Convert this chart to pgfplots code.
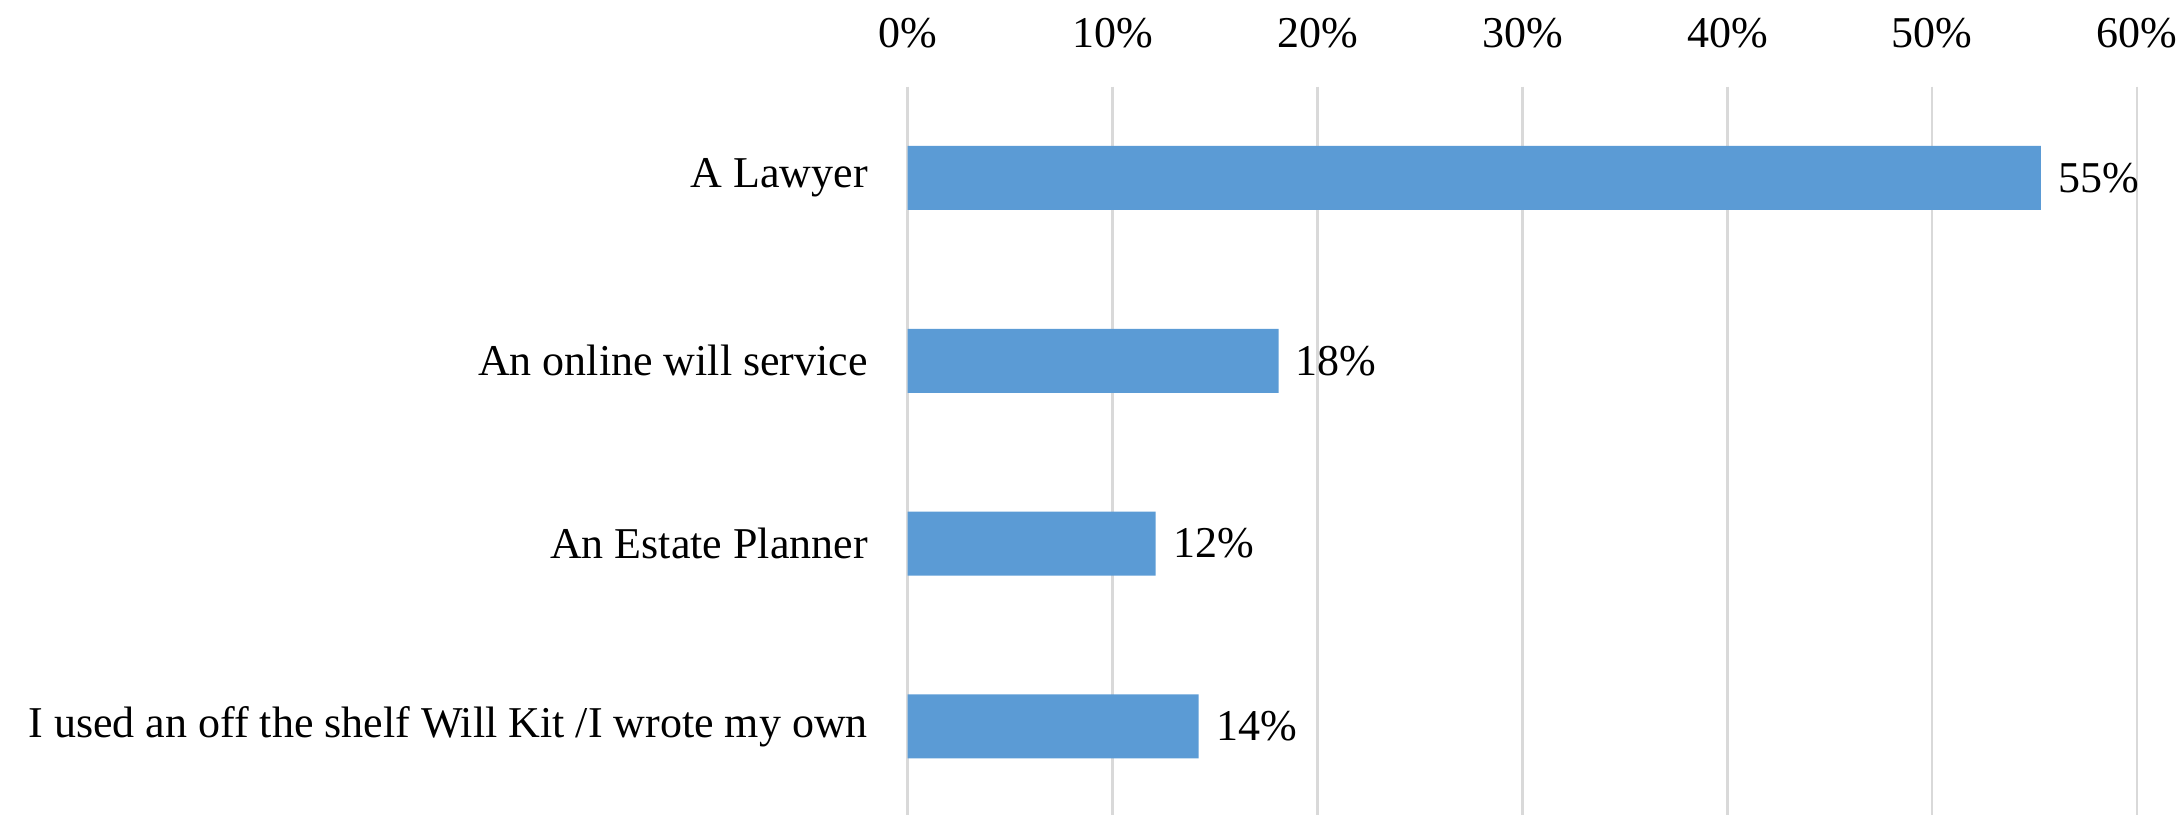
\documentclass[border=0pt]{standalone}
\usepackage{pgfplots}
\pgfplotsset{compat=1.18}
\usepackage{fontspec}
\setmainfont{Liberation Serif}
\definecolor{barblue}{HTML}{5B9BD5}
\definecolor{gridgray}{HTML}{D9D9D9}
\begin{document}
\fontsize{11pt}{13pt}\selectfont
\begin{tikzpicture}
\begin{axis}[
  name=ax,
  scale only axis, width=307.4pt, height=182.1pt,
  xbar, bar width=16pt,
  xmin=0, xmax=60, ymin=-0.5, ymax=3.485, y dir=reverse,
  ytick={0,1,2,3},
  yticklabels={A Lawyer, An online will service, An Estate Planner, I used an off the shelf Will Kit /I wrote my own},
  xtick={0,10,...,60}, xticklabel pos=upper,
  xticklabel={\pgfmathprintnumber{\tick}\%},
  /pgf/number format/assume math mode=true,
  xmajorgrids, grid style={gridgray, line width=0.6pt},
  axis line style={draw=none}, major tick style={draw=none},
  xticklabel style={font=\fontsize{11pt}{13pt}\selectfont, yshift=5.7pt},
  yticklabel style={font=\fontsize{11pt}{13pt}\selectfont, xshift=-1.8pt},
  point meta=explicit symbolic,
  nodes near coords={\pgfplotspointmeta},
  nodes near coords style={anchor=west, xshift=0.5pt, font=\fontsize{11pt}{13pt}\selectfont},
]
\addplot[fill=barblue, draw=none] coordinates {(55.3,0) [55\%] (18.1,1) [18\%] (12.1,2) [12\%] (14.2,3) [14\%]};
\end{axis}
\pgfresetboundingbox
\path (ax.south west) ++(-226.9pt,0) rectangle ++(545.75pt,203.75pt);
\end{tikzpicture}
\end{document}
